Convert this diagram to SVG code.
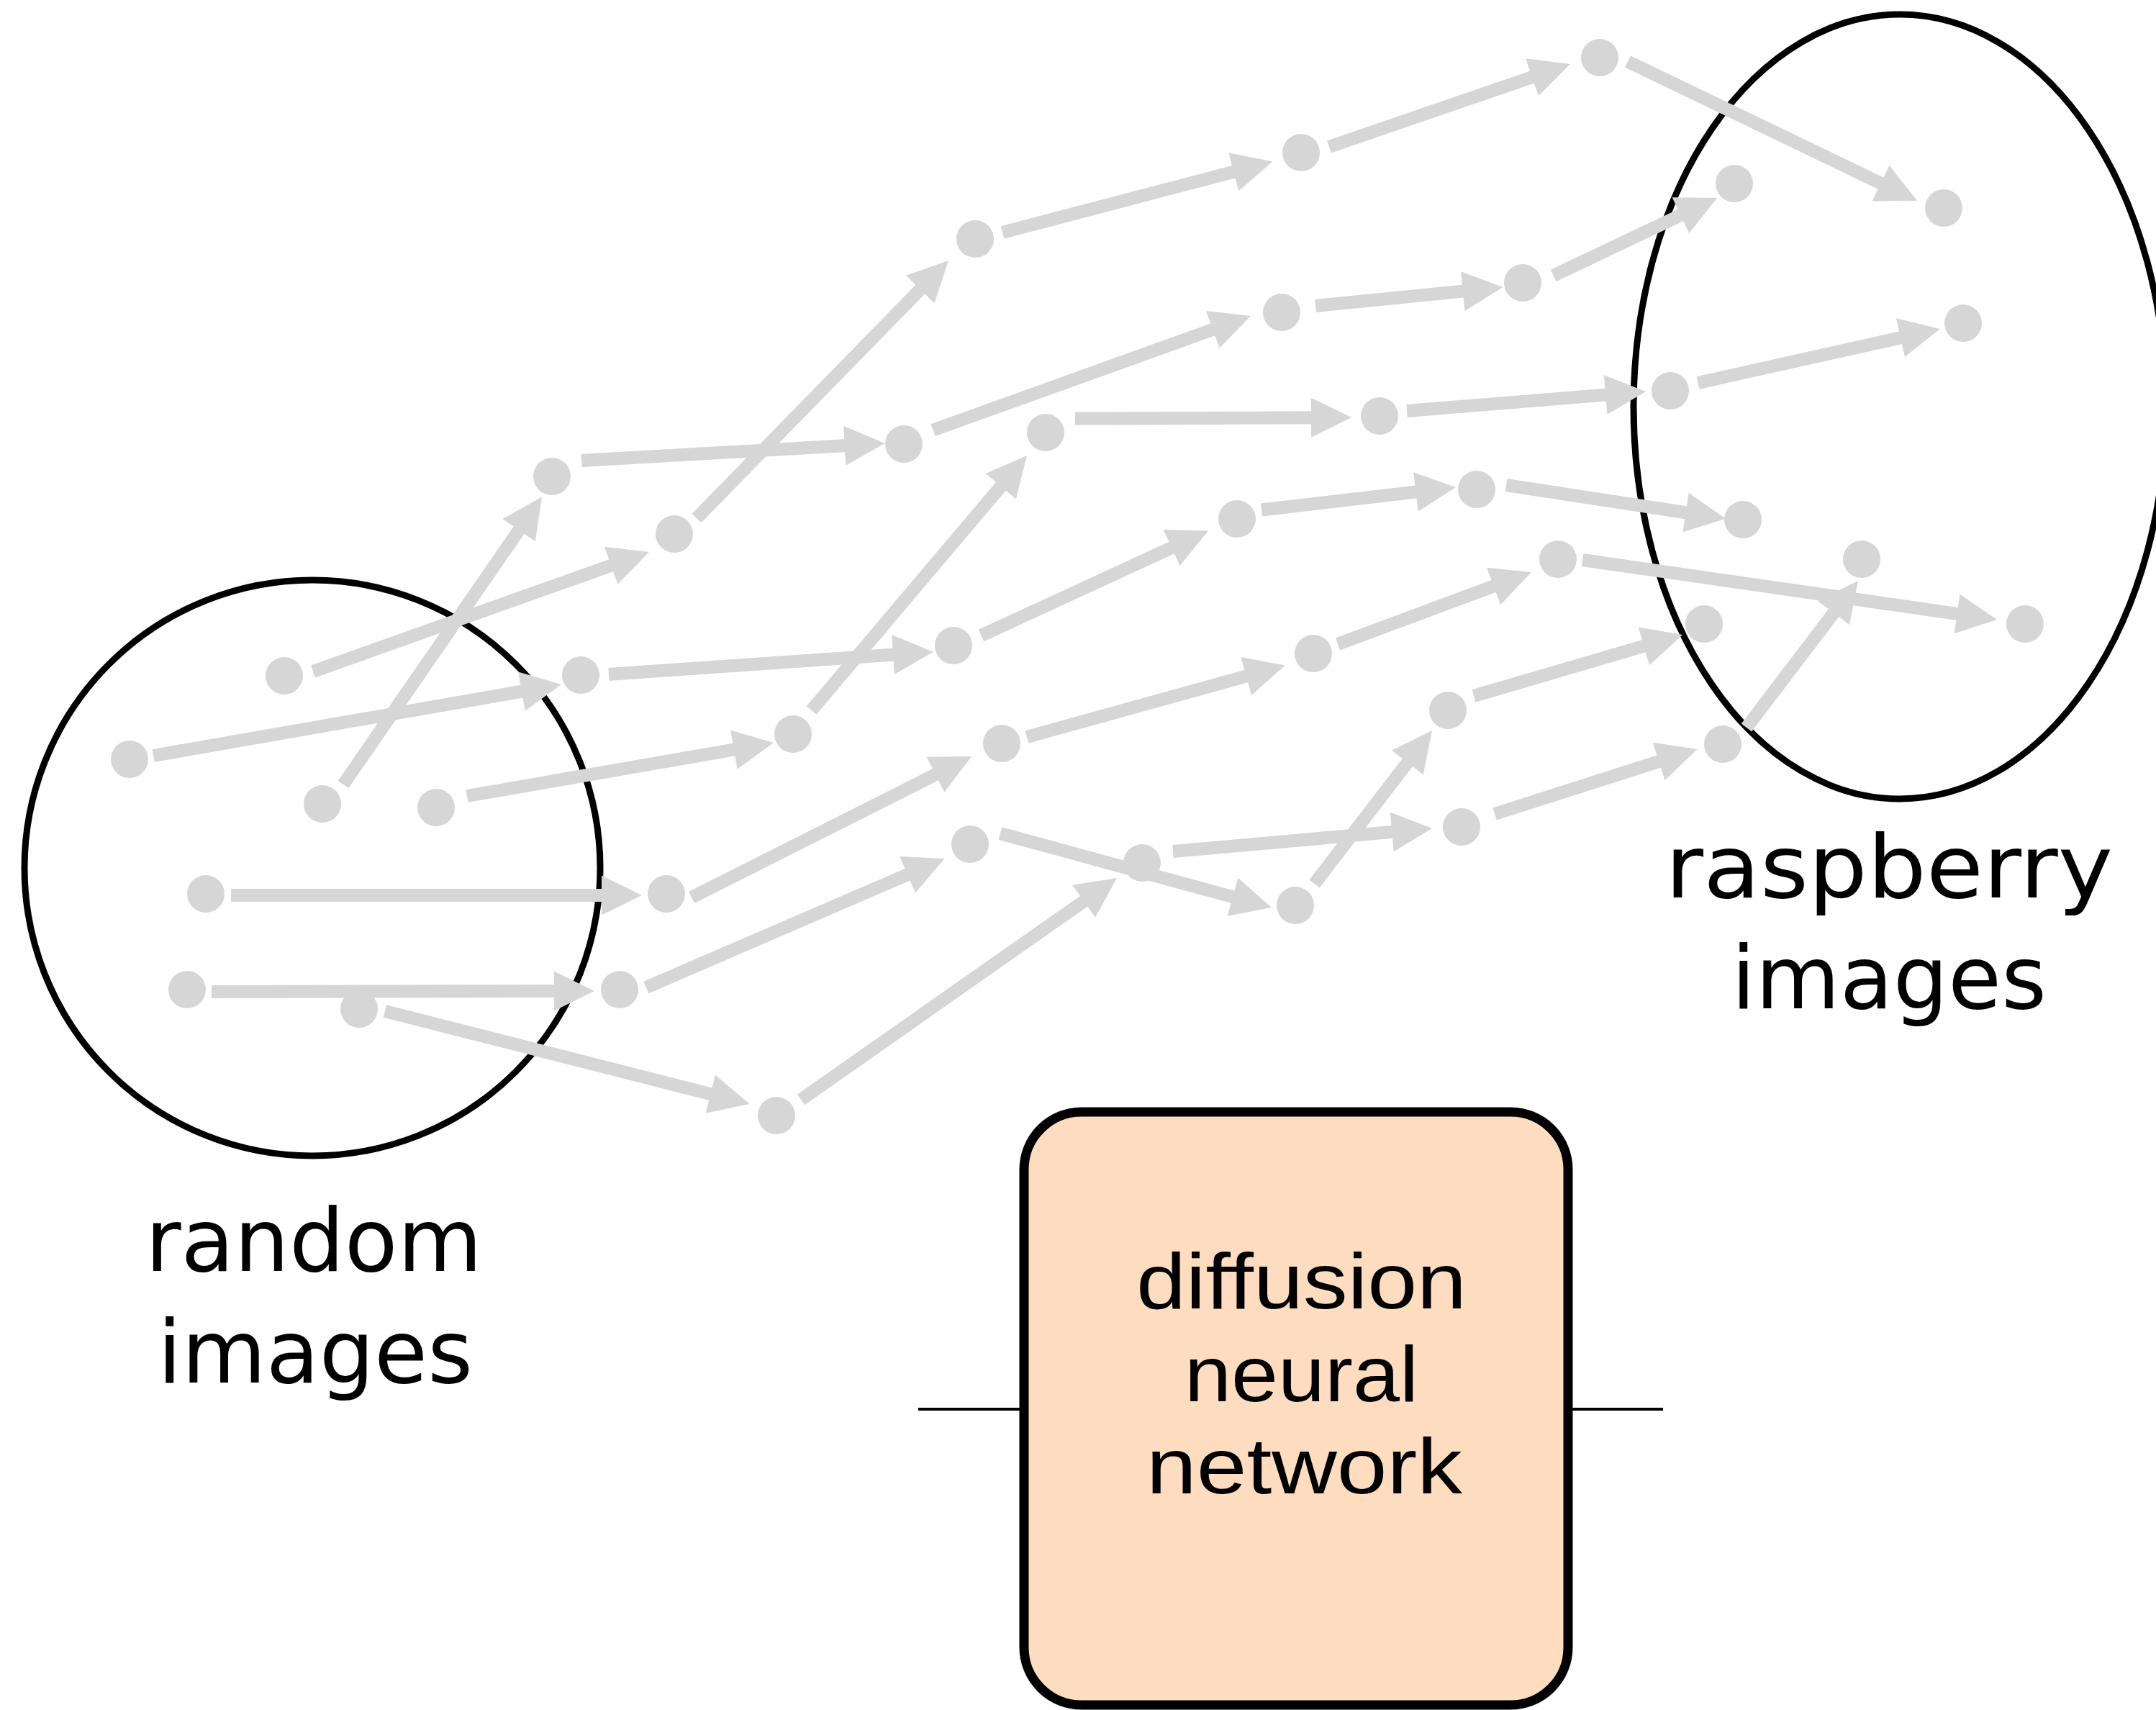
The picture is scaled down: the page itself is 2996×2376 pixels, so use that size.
<svg xmlns="http://www.w3.org/2000/svg" width="2996" height="2376" viewBox="0 0 2996 2376">
<style>
.dot{fill:#D6D6D6}
.arr{stroke:#D6D6D6;stroke-width:18;fill:none;marker-end:url(#ah)}
.set{fill:none;stroke:#000;stroke-width:9}
.lbl{font-family:"DejaVu Sans",sans-serif;font-size:122px;fill:#000}
.nn{font-family:"Liberation Sans",Arial,sans-serif;font-size:110px;fill:#000}
</style>
<defs>
<marker id="ah" markerUnits="userSpaceOnUse" viewBox="0 0 56 55" markerWidth="56" markerHeight="55" refX="12" refY="27.5" orient="auto" overflow="visible">
<path d="M0,0 L56,27.5 L0,55 z" fill="#D6D6D6"/>
</marker>
</defs>
<rect width="2996" height="2376" fill="#fff"/>
<g id="random-set">
<circle class="set" cx="434" cy="1206" r="400"/>
<text class="lbl" x="202" y="1766" textLength="468" lengthAdjust="spacingAndGlyphs">random</text>
<text class="lbl" x="219" y="1921" textLength="438" lengthAdjust="spacingAndGlyphs">images</text>
</g>
<g id="raspberry-set">
<ellipse class="set" cx="2640" cy="565" rx="370" ry="545"/>
<text class="lbl" x="2314" y="1247" textLength="622" lengthAdjust="spacingAndGlyphs">raspberry</text>
<text class="lbl" x="2406" y="1401" textLength="438" lengthAdjust="spacingAndGlyphs">images</text>
</g>
<g id="network">
<line x1="1276" y1="1958" x2="1423" y2="1958" stroke="#000" stroke-width="4"/>
<line x1="2179" y1="1958" x2="2311" y2="1958" stroke="#000" stroke-width="4"/>
<rect x="1423" y="1545" width="756" height="824" rx="80" ry="80" fill="#FDDCBF" stroke="#000" stroke-width="13"/>
<text class="nn" x="1579" y="1818" textLength="459" lengthAdjust="spacingAndGlyphs">diffusion</text>
<text class="nn" x="1646" y="1947" textLength="325" lengthAdjust="spacingAndGlyphs">neural</text>
<text class="nn" x="1593" y="2075" textLength="439" lengthAdjust="spacingAndGlyphs">network</text>
</g>
<g id="connectors">
<line class="arr" x1="213" y1="1050" x2="736.7" y2="958.6"/>
<line class="arr" x1="435" y1="933" x2="860.5" y2="781.7"/>
<line class="arr" x1="477" y1="1090" x2="728" y2="726.7"/>
<line class="arr" x1="649" y1="1106" x2="1031.7" y2="1039.5"/>
<line class="arr" x1="321" y1="1244" x2="848" y2="1244"/>
<line class="arr" x1="294" y1="1378" x2="782" y2="1377"/>
<line class="arr" x1="535" y1="1405" x2="998.9" y2="1523.1"/>
<line class="arr" x1="808" y1="640" x2="1185.7" y2="618.5"/>
<line class="arr" x1="968" y1="720" x2="1287.2" y2="393.5"/>
<line class="arr" x1="846" y1="937" x2="1253.1" y2="908.7"/>
<line class="arr" x1="1127.6" y1="987" x2="1398.6" y2="666.6"/>
<line class="arr" x1="961" y1="1247" x2="1310.7" y2="1070.8"/>
<line class="arr" x1="898" y1="1372" x2="1272.1" y2="1210.4"/>
<line class="arr" x1="1113" y1="1528" x2="1516" y2="1245.3"/>
<line class="arr" x1="1393" y1="323" x2="1725.9" y2="235.7"/>
<line class="arr" x1="1296.5" y1="597.6" x2="1696.6" y2="453.9"/>
<line class="arr" x1="1494" y1="581.6" x2="1834" y2="580.2"/>
<line class="arr" x1="1363.5" y1="883" x2="1639" y2="756"/>
<line class="arr" x1="1427" y1="1024" x2="1743.3" y2="936.3"/>
<line class="arr" x1="1390" y1="1158" x2="1724.6" y2="1249.4"/>
<line class="arr" x1="1630" y1="1183" x2="1946.2" y2="1154.9"/>
<line class="arr" x1="1826.5" y1="1228" x2="1963.2" y2="1049.9"/>
<line class="arr" x1="1847" y1="204" x2="2140.4" y2="103.3"/>
<line class="arr" x1="1828" y1="425" x2="2044.7" y2="403.4"/>
<line class="arr" x1="1753" y1="708.5" x2="1979.3" y2="682.1"/>
<line class="arr" x1="1955" y1="571" x2="2243.1" y2="547.6"/>
<line class="arr" x1="1859" y1="895" x2="2086.8" y2="810.3"/>
<line class="arr" x1="2048" y1="967" x2="2295.8" y2="894.4"/>
<line class="arr" x1="2077" y1="1131" x2="2316.6" y2="1054.4"/>
<line class="arr" x1="2262" y1="85.5" x2="2624.4" y2="259.9"/>
<line class="arr" x1="2158.6" y1="383" x2="2346.3" y2="293.9"/>
<line class="arr" x1="2093" y1="674" x2="2354.5" y2="714"/>
<line class="arr" x1="2199" y1="778" x2="2731.5" y2="854.7"/>
<line class="arr" x1="2359.5" y1="532" x2="2652.7" y2="466.6"/>
<line class="arr" x1="2427" y1="1011" x2="2555.4" y2="842"/>
</g>
<g id="points">
<circle id="p1" class="dot" cx="180" cy="1055" r="26"/>
<circle id="p2" class="dot" cx="395" cy="939" r="26"/>
<circle id="p3" class="dot" cx="448" cy="1117" r="26"/>
<circle id="p4" class="dot" cx="606" cy="1122" r="26"/>
<circle id="p5" class="dot" cx="286" cy="1242" r="26"/>
<circle id="p6" class="dot" cx="260" cy="1375" r="26"/>
<circle id="p7" class="dot" cx="499" cy="1402" r="26"/>
<circle id="p8" class="dot" cx="767" cy="662" r="26"/>
<circle id="p9" class="dot" cx="937" cy="742" r="26"/>
<circle id="p10" class="dot" cx="807" cy="938" r="26"/>
<circle id="p11" class="dot" cx="1102" cy="1020" r="26"/>
<circle id="p12" class="dot" cx="926" cy="1242" r="26"/>
<circle id="p13" class="dot" cx="861" cy="1375" r="26"/>
<circle id="p14" class="dot" cx="1079" cy="1550" r="26"/>
<circle id="p15" class="dot" cx="1355" cy="332" r="26"/>
<circle id="p16" class="dot" cx="1256" cy="617" r="26"/>
<circle id="p17" class="dot" cx="1453" cy="601" r="26"/>
<circle id="p18" class="dot" cx="1325" cy="897" r="26"/>
<circle id="p19" class="dot" cx="1392" cy="1033" r="26"/>
<circle id="p20" class="dot" cx="1348" cy="1173" r="26"/>
<circle id="p21" class="dot" cx="1587" cy="1199" r="26"/>
<circle id="p22" class="dot" cx="1800" cy="1258" r="26"/>
<circle id="p23" class="dot" cx="1808" cy="212" r="26"/>
<circle id="p24" class="dot" cx="1781" cy="434" r="26"/>
<circle id="p25" class="dot" cx="1719" cy="721" r="26"/>
<circle id="p26" class="dot" cx="1917" cy="578" r="26"/>
<circle id="p27" class="dot" cx="1825" cy="908" r="26"/>
<circle id="p28" class="dot" cx="2012" cy="987" r="26"/>
<circle id="p29" class="dot" cx="2031" cy="1149" r="26"/>
<circle id="p30" class="dot" cx="2223" cy="80" r="26"/>
<circle id="p31" class="dot" cx="2116" cy="393" r="26"/>
<circle id="p32" class="dot" cx="2052" cy="680" r="26"/>
<circle id="p33" class="dot" cx="2165" cy="777" r="26"/>
<circle id="p34" class="dot" cx="2321" cy="543" r="26"/>
<circle id="p35" class="dot" cx="2410" cy="255" r="26"/>
<circle id="p36" class="dot" cx="2701" cy="289" r="26"/>
<circle id="p37" class="dot" cx="2728" cy="449" r="26"/>
<circle id="p38" class="dot" cx="2422" cy="722" r="26"/>
<circle id="p39" class="dot" cx="2587" cy="777" r="26"/>
<circle id="p40" class="dot" cx="2368" cy="867" r="26"/>
<circle id="p41" class="dot" cx="2814" cy="867" r="26"/>
<circle id="p42" class="dot" cx="2394" cy="1034" r="26"/>
</g>
</svg>
